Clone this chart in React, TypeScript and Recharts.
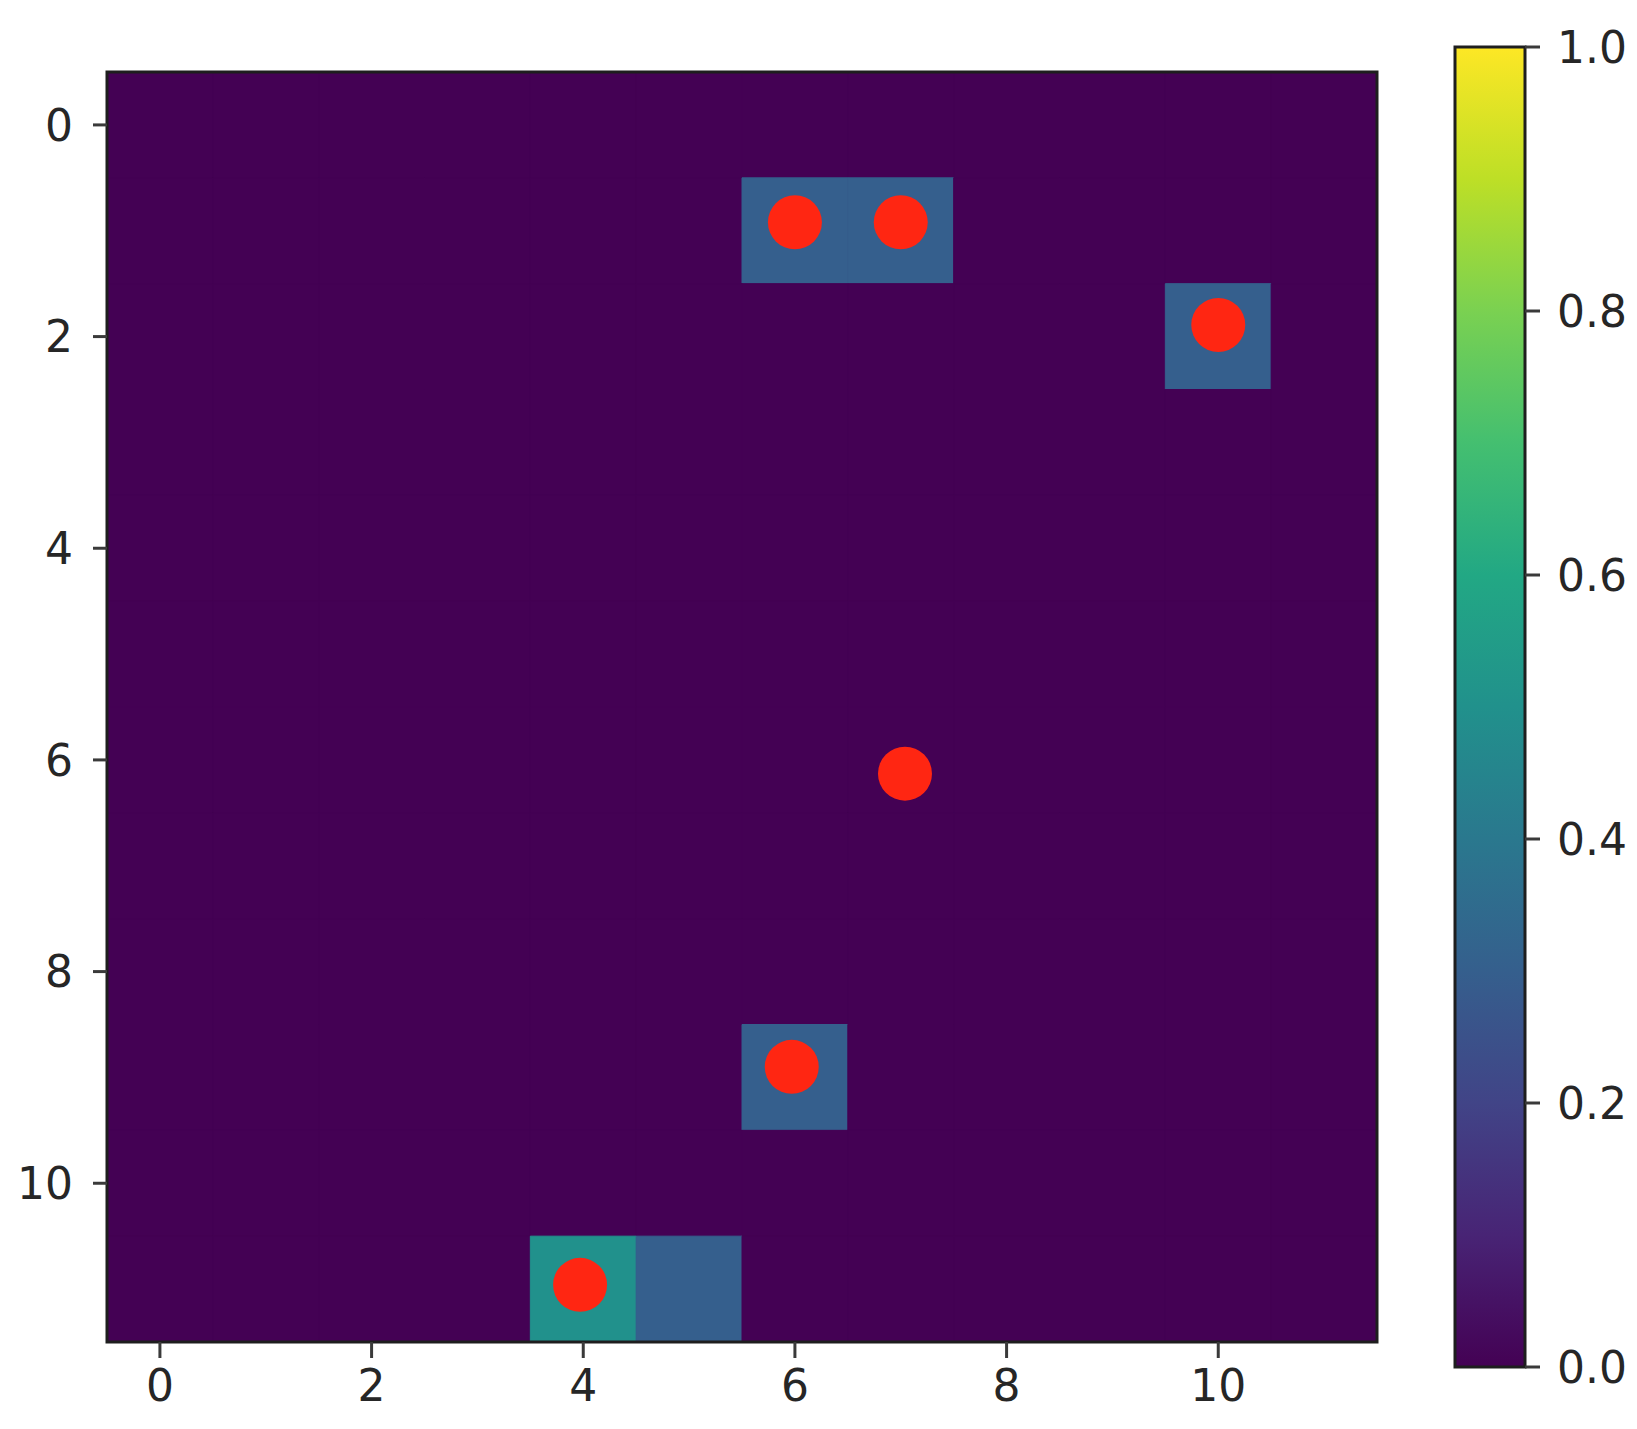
import React from 'react';
import { ScatterChart, XAxis, YAxis, Scatter, ReferenceArea } from 'recharts';

// ---- data ----
const gridCols = [0, 1, 2, 3, 4, 5, 6, 7, 8, 9, 10, 11];
const gridRows = [0, 1, 2, 3, 4, 5, 6, 7, 8, 9, 10, 11];
const hotCols = [6, 7, 10, 6, 4, 5];
const hotRows = [1, 1, 2, 9, 11, 11];
const hotValues = [0.3, 0.3, 0.3, 0.3, 0.5, 0.3];
const pointX = [6, 7, 10, 7.04, 5.97, 3.97];
const pointY = [0.92, 0.92, 1.89, 6.13, 8.9, 10.96];
const xTicks = [0, 2, 4, 6, 8, 10];
const yTicks = [0, 2, 4, 6, 8, 10];
const colorbarTicks = [0, 0.2, 0.4, 0.6, 0.8, 1.0];

// ---- styling helpers ----
const viridisStops = [
  '#440154', '#482475', '#414487', '#355f8d', '#2a788e', '#21918c',
  '#22a884', '#44bf70', '#7ad151', '#bddf26', '#fde725',
];
function hexToRgb(h: string) {
  return [parseInt(h.slice(1, 3), 16), parseInt(h.slice(3, 5), 16), parseInt(h.slice(5, 7), 16)];
}
function viridis(v: number) {
  const t = Math.max(0, Math.min(1, v)) * 10;
  const i = Math.min(9, Math.floor(t));
  const f = t - i;
  const a = hexToRgb(viridisStops[i]);
  const b = hexToRgb(viridisStops[i + 1]);
  const c = a.map((av, k) => Math.round(av + (b[k] - av) * f));
  return `rgb(${c[0]},${c[1]},${c[2]})`;
}

const cells = gridRows.flatMap((r) =>
  gridCols.map((c) => {
    let value = 0;
    hotCols.forEach((hc, k) => {
      if (hc === c && hotRows[k] === r) value = hotValues[k];
    });
    return { r, c, value };
  })
);

const points = pointX.map((x, i) => ({ x, y: pointY[i] }));
const cbData = colorbarTicks.map((v) => ({ x: 0.5, y: v }));

const FONT = 'DejaVu Sans';
const tickStyle = { fontSize: 44, fill: '#262626', fontFamily: FONT };
const tickLineStyle = { stroke: '#3a3a3a', strokeWidth: 3 };

const Dot = (props: any) => {
  const { cx, cy } = props;
  if (cx == null || cy == null) return <g />;
  return <circle cx={cx} cy={cy} r={27} fill="#ff2612" />;
};

export default function App() {
  return (
    <div style={{ position: 'absolute', left: 0, top: 0, width: 1637, height: 1429, background: '#fff' }}>
      <div style={{ position: 'absolute', left: 0, top: 0 }}>
        <ScatterChart width={1420} height={1429} margin={{ top: 72, right: 43, bottom: 0, left: 0 }}>
          <XAxis
            type="number"
            dataKey="x"
            domain={[-0.5, 11.5]}
            ticks={xTicks}
            interval={0}
            axisLine={false}
            tickLine={tickLineStyle}
            tickSize={16}
            tickMargin={12}
            height={87}
            tick={tickStyle}
          />
          <YAxis
            type="number"
            dataKey="y"
            domain={[-0.5, 11.5]}
            reversed
            ticks={yTicks}
            interval={0}
            axisLine={false}
            tickLine={tickLineStyle}
            tickSize={14}
            tickMargin={20}
            width={107}
            tick={tickStyle}
          />
          <ReferenceArea
            x1={-0.5}
            x2={11.5}
            y1={-0.5}
            y2={11.5}
            fill={viridis(0)}
            fillOpacity={1}
            stroke="none"
            ifOverflow="visible"
          />
          {cells.map((cell) => (
            <ReferenceArea
              key={`c-${cell.r}-${cell.c}`}
              x1={cell.c - 0.5}
              x2={cell.c + 0.5}
              y1={cell.r - 0.5}
              y2={cell.r + 0.5}
              fill={viridis(cell.value)}
              fillOpacity={1}
              stroke={viridis(cell.value)}
              strokeWidth={1}
              ifOverflow="visible"
            />
          ))}
          <ReferenceArea
            x1={-0.5}
            x2={11.5}
            y1={-0.5}
            y2={11.5}
            fill="none"
            stroke="#1e1e1e"
            strokeWidth={3}
            ifOverflow="visible"
          />
          <Scatter data={points} shape={<Dot />} isAnimationActive={false} />
        </ScatterChart>
      </div>
      <div style={{ position: 'absolute', left: 1400, top: 0 }}>
        <ScatterChart width={237} height={1429} margin={{ top: 47, right: 0, bottom: 62, left: 55 }}>
          <defs>
            <linearGradient id="viridisGrad" x1="0" y1="1" x2="0" y2="0">
              {viridisStops.map((col, i) => (
                <stop key={i} offset={`${i * 10}%`} stopColor={col} />
              ))}
            </linearGradient>
          </defs>
          <XAxis type="number" dataKey="x" domain={[0, 1]} hide />
          <YAxis
            type="number"
            dataKey="y"
            orientation="right"
            domain={[0, 1]}
            ticks={colorbarTicks}
            interval={0}
            axisLine={false}
            tickLine={tickLineStyle}
            tickSize={15}
            tickMargin={17}
            width={112}
            tick={tickStyle}
            tickFormatter={(v: number) => v.toFixed(1)}
          />
          <ReferenceArea
            x1={0}
            x2={1}
            y1={0}
            y2={1}
            fill="url(#viridisGrad)"
            fillOpacity={1}
            stroke="#1e1e1e"
            strokeWidth={3}
            ifOverflow="visible"
          />
          <Scatter data={cbData} shape={() => <g />} isAnimationActive={false} />
        </ScatterChart>
      </div>
    </div>
  );
}
